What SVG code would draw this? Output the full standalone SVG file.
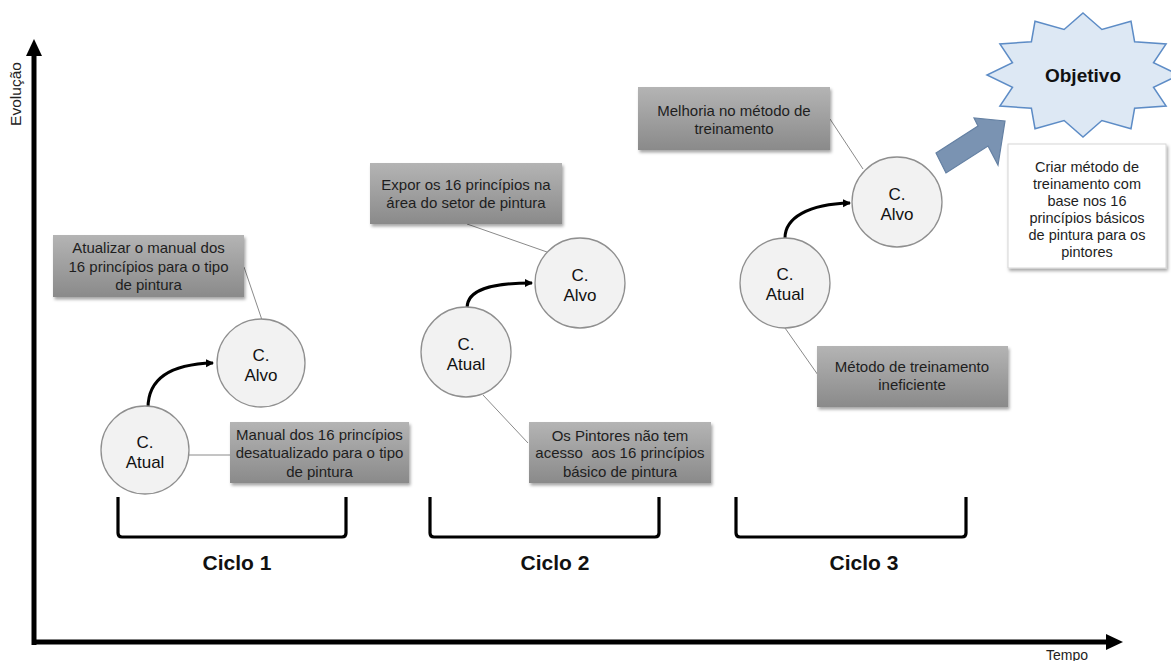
<svg xmlns="http://www.w3.org/2000/svg" width="1171" height="661" viewBox="0 0 1171 661">
<defs>
<linearGradient id="gbox" x1="0" y1="0" x2="0" y2="1">
<stop offset="0" stop-color="#b4b4b4"/>
<stop offset="1" stop-color="#8a8a8a"/>
</linearGradient>
<filter id="sh" x="-10%" y="-10%" width="125%" height="135%">
<feDropShadow dx="1.5" dy="2.5" stdDeviation="1.5" flood-color="#000" flood-opacity="0.35"/>
</filter>
<marker id="ah" markerWidth="10" markerHeight="10" refX="7" refY="4" orient="auto" markerUnits="userSpaceOnUse">
<path d="M0,0 L8,4 L0,8 Z" fill="#000"/>
</marker>
<marker id="axh" markerWidth="20" markerHeight="20" refX="2" refY="8" orient="auto" markerUnits="userSpaceOnUse">
<path d="M0,0 L17,8 L0,16 Z" fill="#000"/>
</marker>
</defs>
<style>
.box{fill:url(#gbox);filter:url(#sh);}
.bt{font-family:"Liberation Sans",Arial,sans-serif;font-size:15px;fill:#1e1e1e;text-anchor:middle;}
.ct{font-family:"Liberation Sans",Arial,sans-serif;font-size:17px;fill:#111;text-anchor:middle;}
.circ{fill:#f2f2f2;stroke:#8f8f8f;stroke-width:1.3;}
.lnk{stroke:#8a8a8a;stroke-width:1;fill:none;}
.cur{stroke:#000;stroke-width:3;fill:none;marker-end:url(#ah);}
.brk{stroke:#000;stroke-width:3.2;fill:none;stroke-linejoin:round;}
.cyc{font-family:"Liberation Sans",Arial,sans-serif;font-size:21px;font-weight:bold;fill:#111;text-anchor:middle;}
.ax{font-family:"Liberation Sans",Arial,sans-serif;fill:#222;}
</style>
<rect width="1171" height="661" fill="#fff"/>

<g id="axes">
<line x1="34" y1="645" x2="34" y2="54" stroke="#000" stroke-width="5" marker-end="url(#axh)"/>
<line x1="32" y1="642" x2="1108" y2="642" stroke="#000" stroke-width="5" marker-end="url(#axh)"/>
<text class="ax" transform="translate(21,94) rotate(-90)" text-anchor="middle" font-size="15.5">Evolução</text>
<text class="ax" x="1067" y="660" text-anchor="middle" font-size="14">Tempo</text>
</g>

<g id="connectors">
<path class="cur" d="M148,408 C148,378 172,364 213,363"/>
<path class="cur" d="M467,308 C467,290 490,283 532,283"/>
<path class="cur" d="M785,238 C785,218 808,204 850,203"/>
<line class="lnk" x1="244" y1="267" x2="262" y2="320"/>
<line class="lnk" x1="188" y1="455" x2="230" y2="455"/>
<line class="lnk" x1="467" y1="224" x2="547" y2="252"/>
<line class="lnk" x1="483" y1="395" x2="528" y2="443"/>
<line class="lnk" x1="830" y1="119" x2="863" y2="169"/>
<line class="lnk" x1="785" y1="328" x2="818" y2="375"/>
</g>

<g id="c1-atual"><circle class="circ" cx="145" cy="450" r="44"/><text class="ct" x="145" y="448">C.</text><text class="ct" x="145" y="468">Atual</text></g>
<g id="c1-alvo"><circle class="circ" cx="261" cy="363" r="44"/><text class="ct" x="261" y="361">C.</text><text class="ct" x="261" y="381">Alvo</text></g>
<g id="c2-atual"><circle class="circ" cx="466" cy="352" r="45"/><text class="ct" x="466" y="350">C.</text><text class="ct" x="466" y="370">Atual</text></g>
<g id="c2-alvo"><circle class="circ" cx="580" cy="283" r="45"/><text class="ct" x="580" y="281">C.</text><text class="ct" x="580" y="301">Alvo</text></g>
<g id="c3-atual"><circle class="circ" cx="785" cy="283" r="45"/><text class="ct" x="785" y="280">C.</text><text class="ct" x="785" y="300">Atual</text></g>
<g id="c3-alvo"><circle class="circ" cx="897" cy="202" r="45"/><text class="ct" x="897" y="200">C.</text><text class="ct" x="897" y="220">Alvo</text></g>

<g id="b1-top"><rect class="box" x="53" y="235" width="191" height="62"/>
<text class="bt" x="148.5" y="253">Atualizar o manual dos</text><text class="bt" x="148.5" y="272">16 princípios para o tipo</text><text class="bt" x="148.5" y="290">de pintura</text></g>
<g id="b1-bot"><rect class="box" x="230" y="422" width="179" height="61"/>
<text class="bt" x="319.5" y="440">Manual dos 16 princípios</text><text class="bt" x="319.5" y="458">desatualizado para o tipo</text><text class="bt" x="319.5" y="477">de pintura</text></g>
<g id="b2-top"><rect class="box" x="370" y="163" width="192" height="61"/>
<text class="bt" x="466" y="190">Expor os 16 princípios na</text><text class="bt" x="466" y="208">área do setor de pintura</text></g>
<g id="b2-bot"><rect class="box" x="529" y="422" width="182" height="61"/>
<text class="bt" x="620" y="441">Os Pintores não tem</text><text class="bt" x="620" y="458" xml:space="preserve">acesso  aos 16 princípios</text><text class="bt" x="620" y="477">básico de pintura</text></g>
<g id="b3-top"><rect class="box" x="638" y="87" width="192" height="63"/>
<text class="bt" x="734" y="116">Melhoria no método de</text><text class="bt" x="734" y="134">treinamento</text></g>
<g id="b3-bot"><rect class="box" x="817" y="346" width="191" height="61"/>
<text class="bt" x="912" y="372">Método de treinamento</text><text class="bt" x="912" y="390">ineficiente</text></g>

<g id="brackets">
<path class="brk" d="M118,497 L118,533 Q118,537 122,537 L342,537 Q346,537 346,533 L346,497"/>
<path class="brk" d="M430,497 L430,533 Q430,537 434,537 L655,537 Q659,537 659,533 L659,497"/>
<path class="brk" d="M736,497 L736,533 Q736,537 740,537 L962,537 Q966,537 966,533 L966,497"/>
<text class="cyc" x="237" y="570">Ciclo 1</text>
<text class="cyc" x="555" y="570">Ciclo 2</text>
<text class="cyc" x="864" y="570">Ciclo 3</text>
</g>

<g id="big-arrow">
<polygon points="936,153 978,126 974,118 1005,121 998,165 988,146 946,173" fill="#7a93b2" stroke="#6480a3" stroke-width="1.2"/>
</g>

<g id="objetivo">
<polygon points="1083,13 1101.9,29.5 1131,21.3 1134.6,41.7 1166.1,44 1153.5,62.8 1179,75 1153.5,87.2 1166.1,106 1134.6,108.3 1131,128.7 1101.9,120.5 1083,137 1064.1,120.5 1035,128.7 1031.4,108.3 999.9,106 1012.5,87.2 987,75 1012.5,62.8 999.9,44 1031.4,41.7 1035,21.3 1064.1,29.5" fill="#dde8f4" stroke="#5d8cc6" stroke-width="1.5"/>
<text x="1083" y="82" font-family="Liberation Sans, Arial, sans-serif" font-size="19" font-weight="bold" fill="#111" text-anchor="middle">Objetivo</text>
</g>

<g id="goal-box">
<rect x="1008" y="144" width="158" height="124" fill="#fff" stroke="#d6d6d6" stroke-width="1" filter="url(#sh)"/>
<g font-family="Liberation Sans, Arial, sans-serif" font-size="14.5" fill="#1e1e1e" text-anchor="middle">
<text x="1087" y="172">Criar método de</text>
<text x="1087" y="189">treinamento com</text>
<text x="1087" y="206">base nos 16</text>
<text x="1087" y="223">princípios básicos</text>
<text x="1087" y="240">de pintura para os</text>
<text x="1087" y="257">pintores</text>
</g>
</g>
</svg>
